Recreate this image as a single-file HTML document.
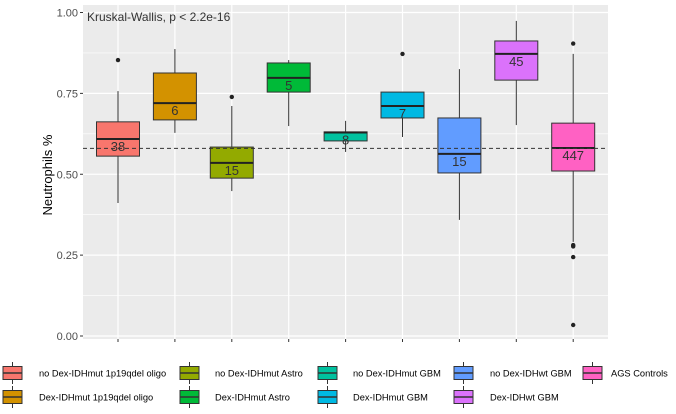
<!DOCTYPE html>
<html><head><meta charset="utf-8"><style>
body{margin:0;background:#fff;font-family:"Liberation Sans",sans-serif}
</style></head><body>
<svg id="chart" width="676" height="409" xmlns="http://www.w3.org/2000/svg" font-family="Liberation Sans, sans-serif">
<rect x="83" y="5" width="525" height="334" fill="#ebebeb"/>
<g id="grid"></g><g id="axes"></g><g id="boxes"></g>
<text x="87" y="21" font-size="12" fill="#333">Kruskal-Wallis, p &lt; 2.2e-16</text>
<text transform="translate(52,175) rotate(-90)" text-anchor="middle" font-size="13" fill="#000">Neutrophils %</text>
<g id="legend"></g>
</svg>
<script>
const groups=["no Dex-IDHmut 1p19qdel oligo","Dex-IDHmut 1p19qdel oligo","no Dex-IDHmut Astro","Dex-IDHmut Astro","no Dex-IDHmut GBM","Dex-IDHmut GBM","no Dex-IDHwt GBM","Dex-IDHwt GBM","AGS Controls"];
const counts=["38","6","15","5","8","7","15","45","447"];
const q1=[0.556,0.668,0.488,0.754,0.603,0.674,0.504,0.791,0.510];
const med=[0.609,0.720,0.535,0.798,0.629,0.711,0.563,0.872,0.581];
const q3=[0.662,0.813,0.584,0.844,0.631,0.754,0.674,0.912,0.658];
const wlo=[0.411,0.628,0.448,0.649,0.569,0.615,0.359,0.652,0.291];
const whi=[0.757,0.887,0.711,0.853,0.665,0.754,0.825,0.974,0.872];
const outliers=[[0.853],[],[0.739],[],[],[0.872],[],[],[0.904,0.281,0.277,0.244,0.034]];
const colors=["#F8766D","#D39200","#93AA00","#00BA38","#00C19F","#00B9E3","#619CFF","#DB72FB","#FF61C3"];
const yTicks=[0,0.25,0.5,0.75,1.0];
const yTickLabels=["0.00","0.25","0.50","0.75","1.00"];
const refLine=0.58;
const NS="http://www.w3.org/2000/svg";
const y=v=>336-v*323.5;
const x=i=>118+i*56.9;
function mk(p,t,a){const e=document.createElementNS(NS,t);for(const k in a)e.setAttribute(k,a[k]);p.appendChild(e);return e;}
const grid=document.getElementById('grid'),axes=document.getElementById('axes'),boxes=document.getElementById('boxes'),legend=document.getElementById('legend');
for(let k=0;k<yTicks.length-1;k++){const m=(yTicks[k]+yTicks[k+1])/2;
 const g=mk(grid,'line',{x1:83,x2:608,y1:y(m),y2:y(m),stroke:'#fff','stroke-width':0.6});
 
 }
yTicks.forEach((t,k)=>{
 const g=mk(grid,'line',{x1:83,x2:608,y1:y(t),y2:y(t),stroke:'#fff','stroke-width':1.2});
 
 
 const tk=mk(axes,'line',{x1:80,x2:83,y1:y(t),y2:y(t),stroke:'#333'});
 
 
 const tl=mk(axes,'text',{x:78,y:y(t)+4,'text-anchor':'end','font-size':11,fill:'#4d4d4d'});
 tl.textContent=yTickLabels[k];
 
 
});
groups.forEach((g,i)=>{
 const gl=mk(grid,'line',{x1:x(i),x2:x(i),y1:5,y2:339,stroke:'#fff','stroke-width':1.2});
 
 
 const tk=mk(axes,'line',{x1:x(i),x2:x(i),y1:339,y2:342,stroke:'#333'});
 
 
 const grp=mk(boxes,'g',{});
 
 
 mk(grp,'line',{x1:x(i),x2:x(i),y1:y(whi[i]),y2:y(wlo[i]),stroke:'#333','stroke-width':1});
 mk(grp,'rect',{x:x(i)-21.5,y:y(q3[i]),width:43,height:y(q1[i])-y(q3[i]),fill:colors[i],stroke:'#333','stroke-width':1});
 mk(grp,'line',{x1:x(i)-21.5,x2:x(i)+21.5,y1:y(med[i]),y2:y(med[i]),stroke:'#222','stroke-width':2});
 outliers[i].forEach(o=>mk(grp,'circle',{cx:x(i),cy:y(o),r:2.2,fill:'#222'}));
 const t=mk(grp,'text',{x:x(i),y:y(med[i])+12,'text-anchor':'middle','font-size':13,fill:'#333'});
 t.textContent=counts[i];
});
const rl=mk(boxes,'line',{x1:83,x2:608,y1:y(refLine),y2:y(refLine),stroke:'#333','stroke-dasharray':'4,3','stroke-width':1});


const lx=[3,180,318,454,583], tx=[39,215,353,490,611], ly=[373,397];
groups.forEach((g,i)=>{
 const col=Math.floor(i/2), row=i%2;
 const e=mk(legend,'g',{});
 
 
 const cx=lx[col]+9.5, cy=ly[row];
 mk(e,'line',{x1:cx,x2:cx,y1:cy-11,y2:cy+11,stroke:'#333'});
 mk(e,'rect',{x:lx[col],y:cy-6.5,width:19,height:13,fill:colors[i],stroke:'#333'});
 mk(e,'line',{x1:lx[col],x2:lx[col]+19,y1:cy,y2:cy,stroke:'#333','stroke-width':1.5});
 const t=mk(e,'text',{x:tx[col],y:cy+3.5,'font-size':9.3,fill:'#000'});
 t.textContent=g;
});
</script>
</body></html>
